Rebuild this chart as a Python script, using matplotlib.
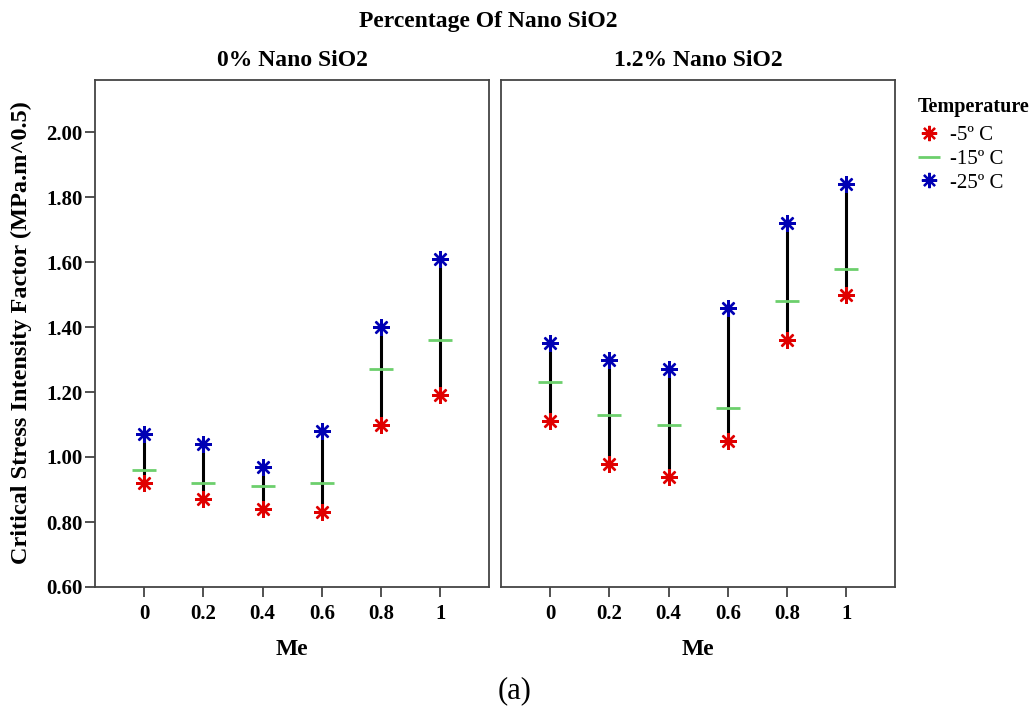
import matplotlib
matplotlib.use("Agg")
import matplotlib.pyplot as plt
from matplotlib.lines import Line2D

plt.rcParams["font.family"] = ["Liberation Serif", "DejaVu Serif"]

# Categories (Me ratio) and facet panels
me_labels = ["0", "0.2", "0.4", "0.6", "0.8", "1"]
panels = ["0% Nano SiO2", "1.2% Nano SiO2"]

# Critical stress intensity factor per temperature, one list per panel
k_minus5 = [
    [0.92, 0.87, 0.84, 0.83, 1.10, 1.19],
    [1.11, 0.98, 0.94, 1.05, 1.36, 1.50],
]
k_minus15 = [
    [0.96, 0.92, 0.91, 0.92, 1.27, 1.36],
    [1.23, 1.13, 1.10, 1.15, 1.48, 1.58],
]
k_minus25 = [
    [1.07, 1.04, 0.97, 1.08, 1.40, 1.61],
    [1.35, 1.30, 1.27, 1.46, 1.72, 1.84],
]

temp_labels = ["-5º C", "-15º C", "-25º C"]
yticks = [0.60, 0.80, 1.00, 1.20, 1.40, 1.60, 1.80, 2.00]

RED = "#e00000"
GREEN = "#6ccf6c"
BLUE = "#0000b4"
ASTER = (8, 2, 0)

fig = plt.figure(figsize=(10.3, 7.2), dpi=100)
W, H = 1030.0, 720.0
boxes = [(95, 80, 489, 587), (501, 80, 895, 587)]

for i, (x0, y0, x1, y1) in enumerate(boxes):
    ax = fig.add_axes([x0 / W, 1 - y1 / H, (x1 - x0) / W, (y1 - y0) / H])
    xs = list(range(len(me_labels)))
    for x, lo, hi in zip(xs, k_minus5[i], k_minus25[i]):
        ax.plot([x, x], [lo, hi], color="black", lw=2.2, zorder=2,
                solid_capstyle="butt")
    ax.plot(xs, k_minus15[i], ls="none", marker="_", ms=17, mew=2,
            color=GREEN, zorder=3)
    ax.plot(xs, k_minus5[i], ls="none", marker=ASTER, ms=12, mew=1.7,
            color=RED, zorder=4)
    ax.plot(xs, k_minus25[i], ls="none", marker=ASTER, ms=12, mew=1.7,
            color=BLUE, zorder=4)

    ax.set_xlim(-0.83, 5.82)
    ax.set_ylim(0.60, 2.16)
    ax.set_xticks(xs)
    ax.set_xticklabels(me_labels, fontsize=15, fontweight="bold")
    ax.tick_params(axis="x", direction="out", length=7, width=1.2,
                   pad=5, color="#333333")
    if i == 0:
        ax.set_yticks(yticks)
        ax.set_yticklabels([f"{v:.2f}" for v in yticks], fontsize=15,
                           fontweight="bold")
        ax.tick_params(axis="y", direction="out", length=7, width=1.2,
                       pad=2, color="#333333")
    else:
        ax.set_yticks([])
    for s in ax.spines.values():
        s.set_color("#444444")
        s.set_linewidth(1.3)
    ax.set_xlabel("Me", fontsize=17, fontweight="bold", labelpad=11)
    ax.set_title(panels[i], fontsize=17, fontweight="bold", pad=10)

fig.text(21 / W, 1 - 333 / H, "Critical Stress Intensity Factor (MPa.m^0.5)",
         rotation=90, ha="center", va="center", fontsize=17.5,
         fontweight="bold")
fig.text(488 / W, 1 - 21 / H, "Percentage Of Nano SiO2", ha="center",
         va="center", fontsize=17, fontweight="bold")
fig.text(515 / W, 1 - 691 / H, "(a)", ha="center", va="center",
         fontsize=22)

handles = [
    Line2D([], [], ls="none", marker=ASTER, ms=11, mew=1.6, color=RED),
    Line2D([], [], ls="none", marker="_", ms=16, mew=2, color=GREEN),
    Line2D([], [], ls="none", marker=ASTER, ms=11, mew=1.6, color=BLUE),
]
leg = fig.legend(handles, temp_labels, title="Temperature",
                 loc="upper left", bbox_to_anchor=(914 / W, 1 - 93 / H),
                 frameon=False, fontsize=15,
                 title_fontproperties={"weight": "bold", "size": 14.5},
                 handlelength=1.0, handletextpad=0.55, labelspacing=0.2,
                 borderpad=0.2, borderaxespad=0)
leg._legend_box.align = "left"
leg._legend_box.sep = 6

fig.savefig("out.png", dpi=100)
